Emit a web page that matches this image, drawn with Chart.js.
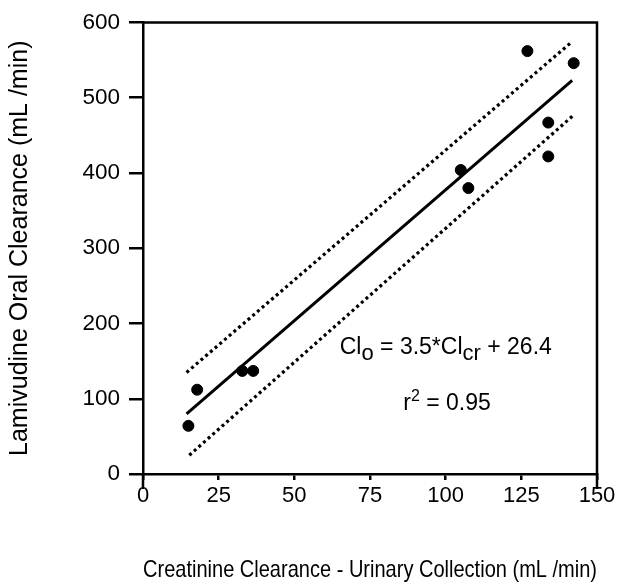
<!DOCTYPE html>
<html>
<head>
<meta charset="utf-8">
<script src="https://cdn.jsdelivr.net/npm/chart.js@4.4.1/dist/chart.umd.min.js"></script>
<style>
  html, body { margin: 0; padding: 0; background: #fff; }
</style>
</head>
<body>
<canvas id="chartScatter" width="637" height="582"></canvas>
<script>
// values
var clearanceX = [15, 17.9, 32.8, 36.4, 105, 107.5, 127, 133.9, 133.9, 142.3];
var oralY = [64, 112, 137, 137, 404, 380, 562, 467, 422, 546];

// regression line and its band, end points
var fitX = [14.4, 141.8];
var fitY = [80, 523];
var upperX = [14.4, 141.6];
var upperY = [135, 574];
var lowerX = [15.3, 142];
var lowerY = [25, 476];

var xTicks = [0, 25, 50, 75, 100, 125, 150];
var yTicks = [0, 100, 200, 300, 400, 500, 600];

// text parts: [text, shift]  shift 1 = subscript, -1 = superscript
var eqParts = [["Cl", 0], ["o", 1], [" = 3.5*Cl", 0], ["cr", 1], [" + 26.4", 0]];
var eqAt = [65, 159];
var r2Parts = [["r", 0], ["2", -1], [" = 0.95", 0]];
var r2At = [86, 85];

var FONT = "Arial, 'Liberation Sans', Helvetica, sans-serif";

function toPoints(xs, ys) {
    var pts = [];
    for (var i = 0; i < xs.length; i++) pts.push({ x: xs[i], y: ys[i] });
    return pts;
}

function drawParts(ctx, parts, x, y) {
    ctx.fillStyle = "#000";
    ctx.textBaseline = "alphabetic";
    ctx.textAlign = "left";
    for (var i = 0; i < parts.length; i++) {
        var txt = parts[i][0], s = parts[i][1];
        var size = s === 0 ? 23 : (s === 1 ? 22 : 16);
        ctx.font = size + "px " + FONT;
        var dy = s === 1 ? 6 : (s === -1 ? -9 : 0);
        ctx.fillText(txt, x, y + dy);
        x += ctx.measureText(txt).width;
    }
}

var framePlugin = {
    id: "frame",
    beforeDatasetsDraw: function (chart) {
        var a = chart.chartArea, ctx = chart.ctx;
        ctx.save();
        ctx.strokeStyle = "#000";
        ctx.lineWidth = 2.5;
        ctx.beginPath();
        ctx.moveTo(a.left, a.top);
        ctx.lineTo(a.right, a.top);
        ctx.lineTo(a.right, a.bottom + 15);
        ctx.moveTo(a.left, a.bottom);
        ctx.lineTo(a.left, a.bottom + 15);
        ctx.stroke();
        ctx.restore();
    },
    afterDraw: function (chart) {
        var ctx = chart.ctx, sx = chart.scales.x, sy = chart.scales.y;
        ctx.save();
        drawParts(ctx, eqParts, sx.getPixelForValue(eqAt[0]), sy.getPixelForValue(eqAt[1]));
        drawParts(ctx, r2Parts, sx.getPixelForValue(r2At[0]), sy.getPixelForValue(r2At[1]));
        ctx.restore();
    }
};

const dataScatter = {
    datasets: [
        {
            type: "scatter",
            label: "Patients",
            data: toPoints(clearanceX, oralY),
            backgroundColor: "#000",
            borderColor: "#000",
            pointRadius: 5.5,
            pointHoverRadius: 5.5,
            order: 0,
        },
        {
            type: "line",
            label: "Fit",
            data: toPoints(fitX, fitY),
            borderColor: "#000",
            borderWidth: 3,
            pointRadius: 0,
            fill: false,
            order: 1,
        },
        {
            type: "line",
            label: "Upper",
            data: toPoints(upperX, upperY),
            borderColor: "#000",
            borderWidth: 3.2,
            borderDash: [3, 3.2],
            pointRadius: 0,
            fill: false,
            order: 2,
        },
        {
            type: "line",
            label: "Lower",
            data: toPoints(lowerX, lowerY),
            borderColor: "#000",
            borderWidth: 3.2,
            borderDash: [3, 3.2],
            pointRadius: 0,
            fill: false,
            order: 3,
        },
    ],
};

const configScatter = {
    type: "scatter",
    data: dataScatter,
    options: {
        responsive: false,
        animation: false,
        devicePixelRatio: 1,
        layout: { padding: { left: 0, right: 40, top: 21, bottom: 0 } },
        plugins: {
            legend: false,
            tooltip: false,
        },
        scales: {
            x: {
                type: "linear",
                min: 0,
                max: 150,
                afterBuildTicks: function (scale) {
                    scale.ticks = xTicks.map(function (v) { return { value: v }; });
                },
                afterFit: function (scale) { scale.height = 108; },
                border: { color: "#000", width: 2.5 },
                grid: { drawOnChartArea: false, color: "#000", lineWidth: 2.5, tickLength: 6 },
                ticks: { color: "#000", padding: 3, maxRotation: 0, font: { family: FONT, size: 22 } },
                title: {
                    display: true,
                    text: "Creatinine Clearance - Urinary Collection (mL /min)",
                    color: "#000",
                    font: { family: FONT, size: 23.4, lineHeight: 1 },
                    padding: { top: 0, bottom: 0 },
                },
            },
            y: {
                type: "linear",
                min: 0,
                max: 600,
                afterBuildTicks: function (scale) {
                    scale.ticks = yTicks.map(function (v) { return { value: v }; });
                },
                afterFit: function (scale) { scale.width = 143; },
                border: { color: "#000", width: 2.5 },
                grid: { drawOnChartArea: false, color: "#000", lineWidth: 2.5, tickLength: 14 },
                ticks: { color: "#000", padding: 9, font: { family: FONT, size: 22.5 } },
                title: {
                    display: true,
                    text: "Lamivudine Oral Clearance (mL /min)",
                    color: "#000",
                    font: { family: FONT, size: 25, lineHeight: 1 },
                    padding: { top: 8, bottom: 0 },
                },
            },
        },
    },
    plugins: [framePlugin],
};

var chartScatter = new Chart(document.getElementById("chartScatter"), configScatter);
</script>
</body>
</html>
